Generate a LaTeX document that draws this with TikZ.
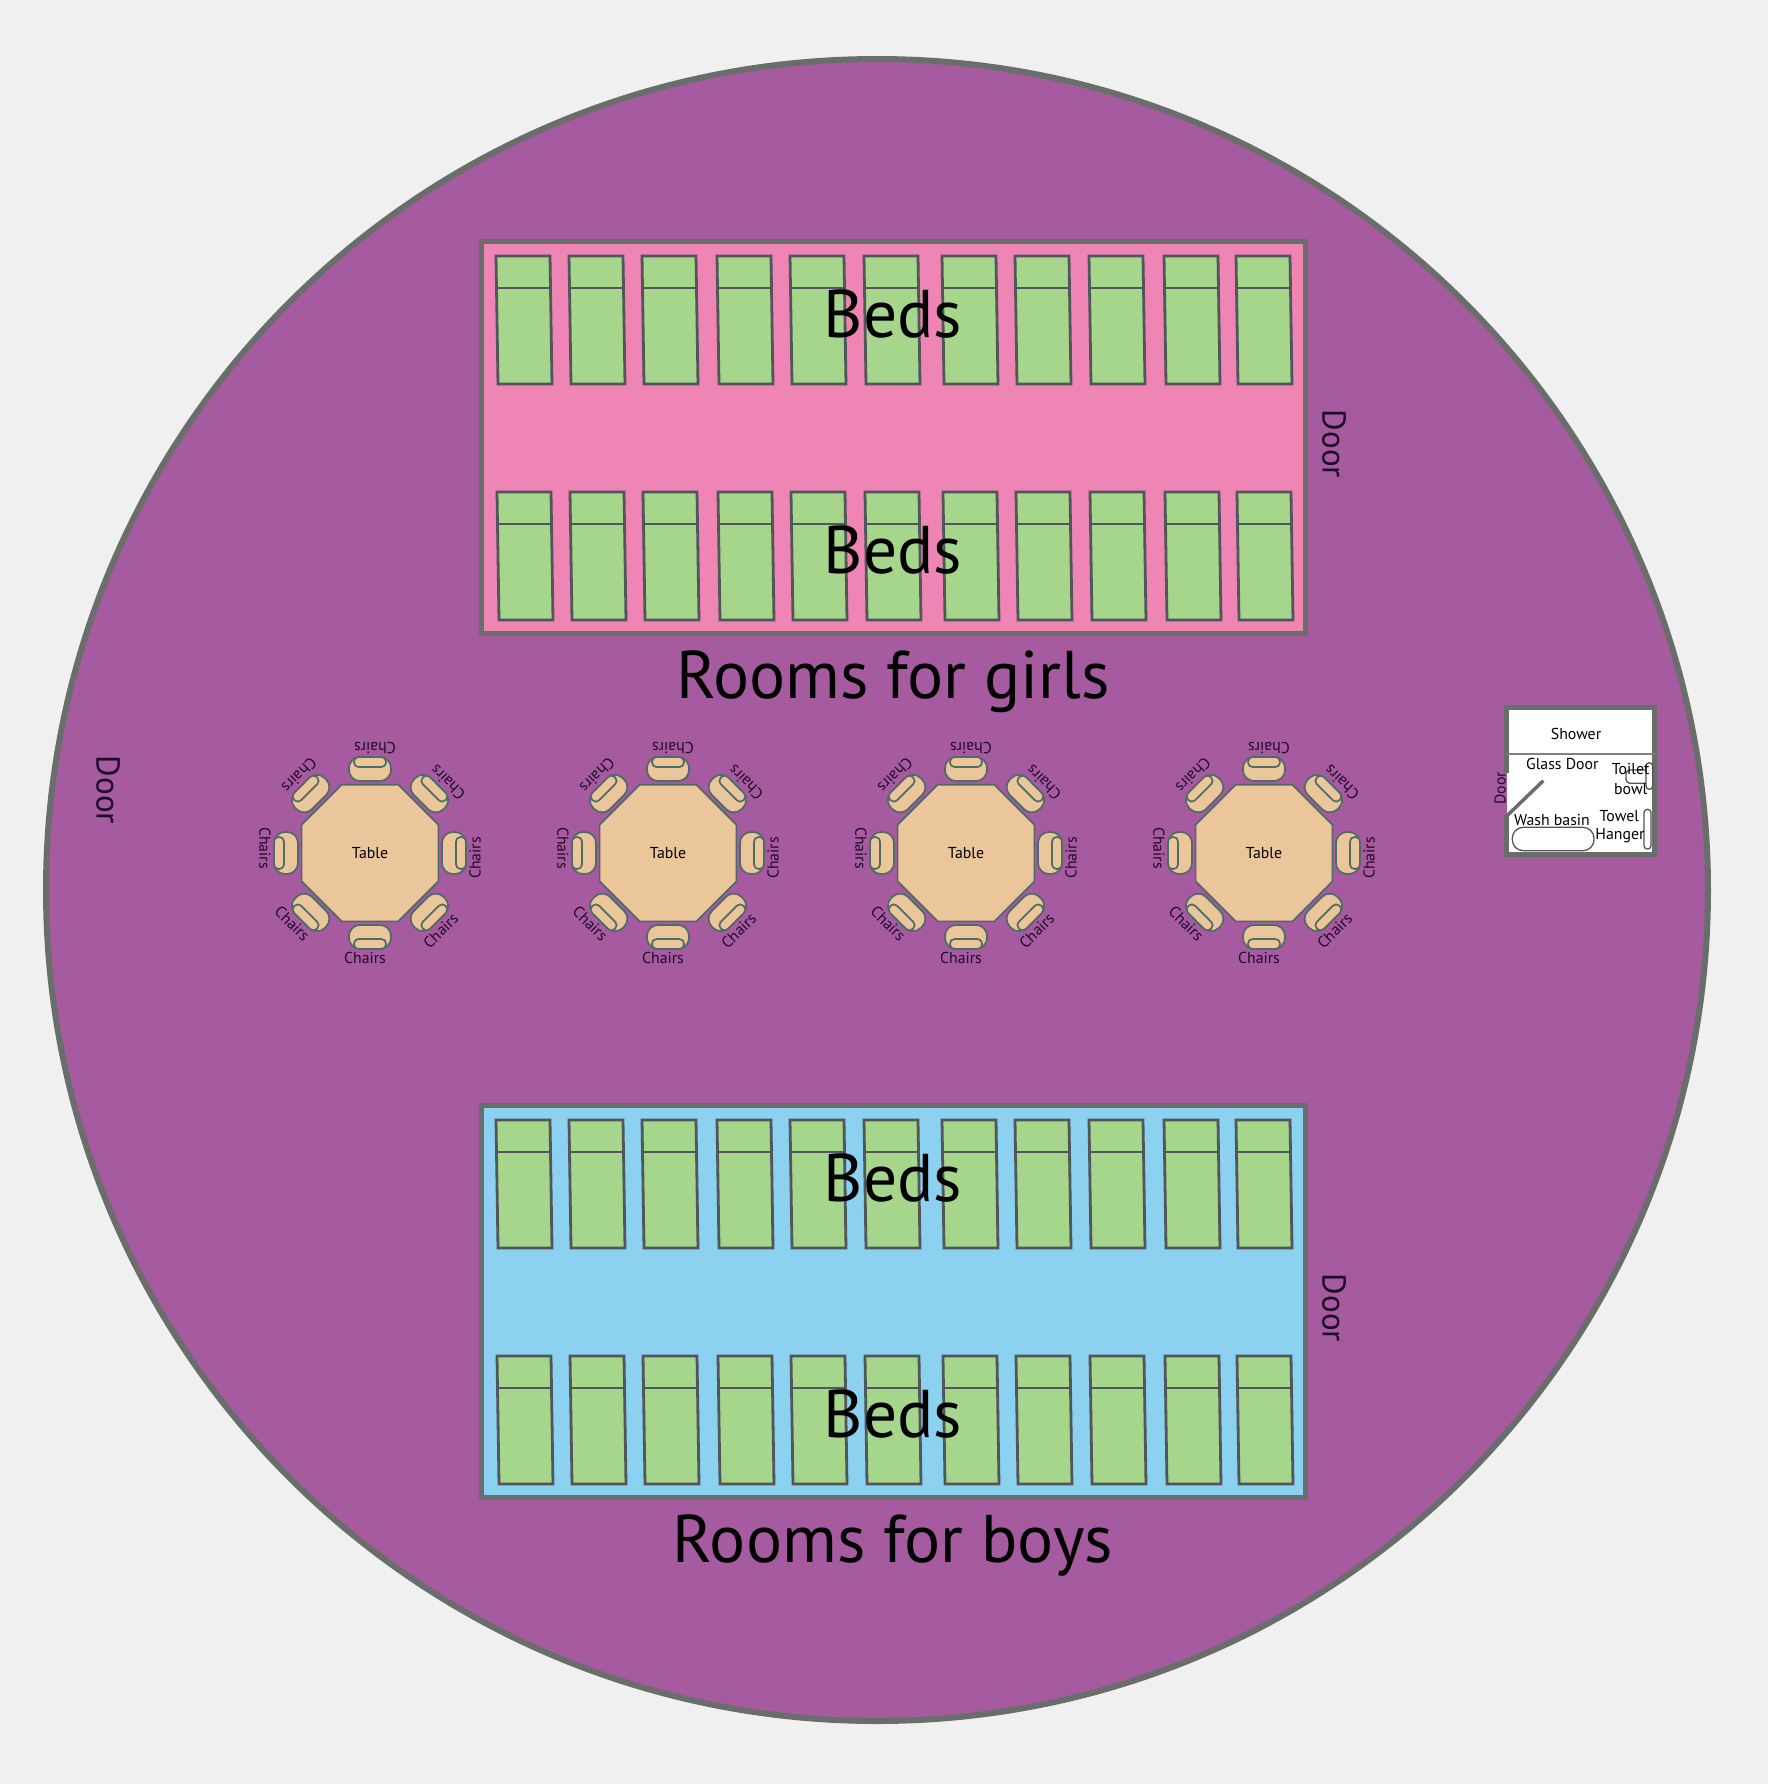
\documentclass[tikz,border=0pt]{standalone}
\usepackage{fontspec}
\setmainfont{PT Sans}
\usepackage{xcolor}
\usetikzlibrary{shapes.geometric}
\definecolor{paper}{HTML}{F0F0F0}
\definecolor{hall}{HTML}{A65AA0}
\definecolor{wallgray}{HTML}{6A6E6A}
\definecolor{roompink}{HTML}{EE85B5}
\definecolor{roomblue}{HTML}{8CD1F0}
\definecolor{bedgreen}{HTML}{A6D68C}
\definecolor{bedline}{HTML}{50565A}
\definecolor{wood}{HTML}{EAC69A}
\definecolor{woodline}{HTML}{4E6B66}
\definecolor{ink}{HTML}{1E0A26}

\begin{document}
\begin{tikzpicture}
    [   x = 0.1mm
    ,   y = 0.1mm
    ,   room/.style =
        {   draw = wallgray
        ,   line width = 0.5mm
        ,   minimum width = 82.4mm
        ,   minimum height = 39.2mm
        }
    ,   bedbox/.style =
        {   draw = bedline
        ,   fill = bedgreen
        ,   line width = 0.28mm
        }
    ,   tabletop/.style =
        {   draw = woodline
        ,   fill = wood
        ,   line width = 0.17mm
        ,   regular polygon
        ,   regular polygon sides = 8
        ,   inner sep = 0mm
        ,   outer sep = 0mm
        ,   minimum size = 14.8mm
        ,   font = \fontsize{4.5}{5}\selectfont
        }
    ,   seat/.style =
        {   draw = woodline
        ,   fill = wood
        ,   line width = 0.17mm
        ,   rounded corners = 1.1mm
        }
    ,   seatback/.style =
        {   draw = woodline
        ,   fill = wood
        ,   line width = 0.17mm
        ,   rounded corners = 0.45mm
        }
    ,   bigtext/.style = {font = \fontsize{19.2}{22}\selectfont}
    ,   doortext/.style = {text = ink, font = \fontsize{9.4}{12}\selectfont}
    ,   smalltext/.style = {text = ink, font = \fontsize{4.5}{5}\selectfont}
    ,   bathtext/.style = {font = \fontsize{4.5}{5}\selectfont}
    ,   fitting/.style = {draw = bedline, line width = 0.13mm}
    ]
    \useasboundingbox (0,0) rectangle (1768,-1784);
    \fill[paper] (0,0) rectangle (1768,-1784);
    \draw[fill = hall, draw = wallgray, line width = 0.6mm] (877,-890) circle (831);

    % rooms
    \node[room, fill = roompink] (girls) at (893,-437.5) {};
    \node[room, fill = roomblue] (boys)  at (893,-1301) {};

    \foreach\x in {496,569,642,717,790,864,942,1015,1089,1164,1236}
    {   \foreach\y/\s in {256/0,492/1,1120/0,1356/1}
        {   \draw[bedbox] (\x+\s,-\y) -- (\x+\s+54,-\y) -- (\x+\s+56,-\y-128)
                -- (\x+\s+2,-\y-128) -- cycle;
            \draw[bedbox] (\x+\s,-\y-32) to (\x+\s+55,-\y-32);
        }
    }

    \node[bigtext] (bedsA) at (893,-314)  {Beds};
    \node[bigtext] (bedsB) at (893,-550)  {Beds};
    \node[bigtext] (bedsC) at (893,-1178) {Beds};
    \node[bigtext] (bedsD) at (893,-1414) {Beds};
    \node[bigtext] (girlsname) at (893,-682)  {Rooms for girls};
    \node[bigtext] (boysname)  at (893,-1546) {Rooms for boys};

    \node[doortext, rotate = -90] (doorG) at (1334,-444)  {Door};
    \node[doortext, rotate = -90] (doorB) at (1334,-1308) {Door};
    \node[doortext, rotate = -90] (doorM) at (108,-790)   {Door};

    % tables with their chairs
    \foreach\t/\x in {A/370,B/668,C/966,D/1264}
    {   \node[tabletop] (table\t) at (\x,-853) {Table};
        \foreach\a in {0,45,...,315}
        {   \begin{scope}[shift = {(table\t.center)}, rotate = \a]
                \draw[seat] (72,-21) rectangle (96,21);
                \draw[seatback] (86,-16) rectangle (96,16);
                \node[smalltext, rotate = \a+90] (chair\t\a) at (105,-5) {Chairs};
            \end{scope}
        }
    }

    % bathroom
    \fill[white] (1506.7,-707.5) rectangle (1654.7,-854);
    \draw[wallgray, line width = 0.5mm]
        (1506.7,-772.7) -- (1506.7,-707.5) -- (1654.7,-707.5)
        -- (1654.7,-854) -- (1506.7,-854) -- (1506.7,-815);
    \draw[gray, line width = 0.2mm] (1506.7,-754.3) -- (1654.7,-754.3);
    \draw[wallgray, line width = 0.35mm] (1506.7,-816) -- (1543.3,-780.7);
    \draw[fitting, rounded corners = 1.1mm] (1512.3,-827.3) rectangle (1594,-850.7);
    \draw[fitting, rounded corners = 0.33mm] (1644,-809.3) rectangle (1651,-849);
    \draw[fitting, rounded corners = 0.33mm] (1646,-762.7) rectangle (1652.7,-789.3);
    \draw[fitting, rounded corners = 0.4mm] (1646,-770) -- (1626,-770) -- (1626,-783.3) -- (1646,-783.3);

    \node[bathtext] (shower) at (1576,-734.3)   {Shower};
    \node[bathtext] (glass)  at (1562.3,-764)   {Glass Door};
    \node[bathtext] (toilet) at (1630.7,-769.3) {Toilet};
    \node[bathtext] (bowl)   at (1630.7,-788.7) {bowl};
    \node[bathtext] (basin)  at (1552,-820)     {Wash basin};
    \node[bathtext] (towel)  at (1619.3,-815.7) {Towel};
    \node[bathtext] (hanger) at (1620,-835.3)   {Hanger};
    \node[smalltext, rotate = 90] (doorW) at (1500,-788.3) {Door};
\end{tikzpicture}
\end{document}
